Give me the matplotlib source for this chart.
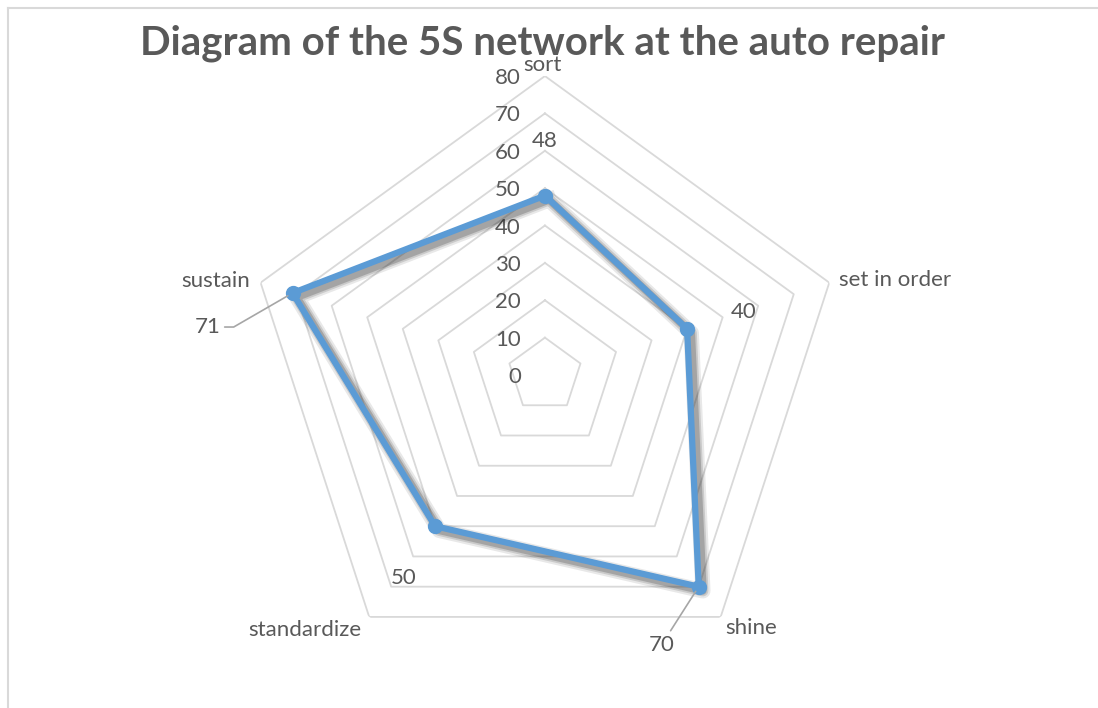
import numpy as np
from matplotlib import pyplot as plt
from matplotlib import patheffects as pe
from matplotlib.lines import Line2D

# DATA
categories = ['sort', 'set in order', 'shine', 'standardize', 'sustain']
values = [48, 40, 70, 50, 71]
rings = [10, 20, 30, 40, 50, 60, 70, 80]
tick_labels = ['0', '10', '20', '30', '40', '50', '60', '70', '80']
title = 'Diagram of the 5S network at the auto repair'

text_col = '#595959'
grid_col = '#D9D9D9'
blue = '#5B9BD5'

plt.rcParams['font.family'] = ['Lato', 'DejaVu Sans']

fig = plt.figure(figsize=(10.98, 7.08), dpi=100)
ax = fig.add_axes([0.2240, 0.0480, 0.5446, 0.8446], projection='polar')
ax.set_theta_zero_location('N')
ax.set_theta_direction(-1)
ax.set_ylim(0, rings[-1])
ax.grid(False)
ax.spines['polar'].set_visible(False)
ax.set_xticks([])
ax.set_yticks([])
ax.patch.set_alpha(0)

n = len(categories)
theta = np.arange(n) * 2 * np.pi / n
theta_closed = np.append(theta, theta[0])

# pentagon grid
for r in rings:
    ax.plot(theta_closed, [r] * (n + 1), color=grid_col, lw=1.3, zorder=1)

# value axis labels along the top spoke
for i, lab in enumerate(tick_labels):
    ax.annotate(lab, xy=(0, i * 10), xytext=(-24, -2), textcoords='offset pixels',
                ha='right', va='center', fontsize=16, color=text_col)

# category labels
cat_offsets = [(-2, 11), (66, 3), (30, -11), (-64, -13), (-45, 2)]
for t, lab, off in zip(theta, categories, cat_offsets):
    ax.annotate(lab, xy=(t, rings[-1]), xytext=off, textcoords='offset pixels',
                ha='center', va='center', fontsize=16, color=text_col)

# data series (soft shadow like the spreadsheet one)
vals_closed = values + [values[0]]
shadow = [pe.SimpleLineShadow(offset=(3, -3), alpha=a, shadow_color='#202020', linewidth=w)
          for a, w in [(0.10, 11), (0.15, 8), (0.22, 5.5)]]
ax.plot(theta_closed, vals_closed, color=blue, lw=4.5, solid_joinstyle='round',
        zorder=5, path_effects=shadow + [pe.Normal()])
ax.plot(theta, values, ls='none', color=blue, marker='o', ms=10, zorder=6)

# data labels
lab_offsets = [(0, 55), (57, 17), (-37, -58), (-31, -52), (-85, -34)]
leaders = [None, None, 'arc3,rad=0', None, 'angle,angleA=0,angleB=30,rad=0']
for t, v, off, lead in zip(theta, values, lab_offsets, leaders):
    props = None
    if lead:
        props = dict(arrowstyle='-', color='#A6A6A6', lw=1.2, shrinkA=1, shrinkB=4,
                     connectionstyle=lead)
    ax.annotate(str(v), xy=(t, v), xytext=off, textcoords='offset pixels',
                ha='center', va='center', fontsize=16, color=text_col,
                arrowprops=props, zorder=7)

fig.text(0.4945, 1 - 54 / 708, title, ha='center', va='baseline', fontsize=29,
         fontweight='bold', color=text_col)

# chart area border (top and left)
fig.add_artist(Line2D([8 / 1098, 1], [1 - 8 / 708, 1 - 8 / 708],
                      color=grid_col, lw=1.5))
fig.add_artist(Line2D([8 / 1098, 8 / 1098], [0, 1 - 8 / 708],
                      color=grid_col, lw=1.5))

fig.savefig('out.png', dpi=100)
